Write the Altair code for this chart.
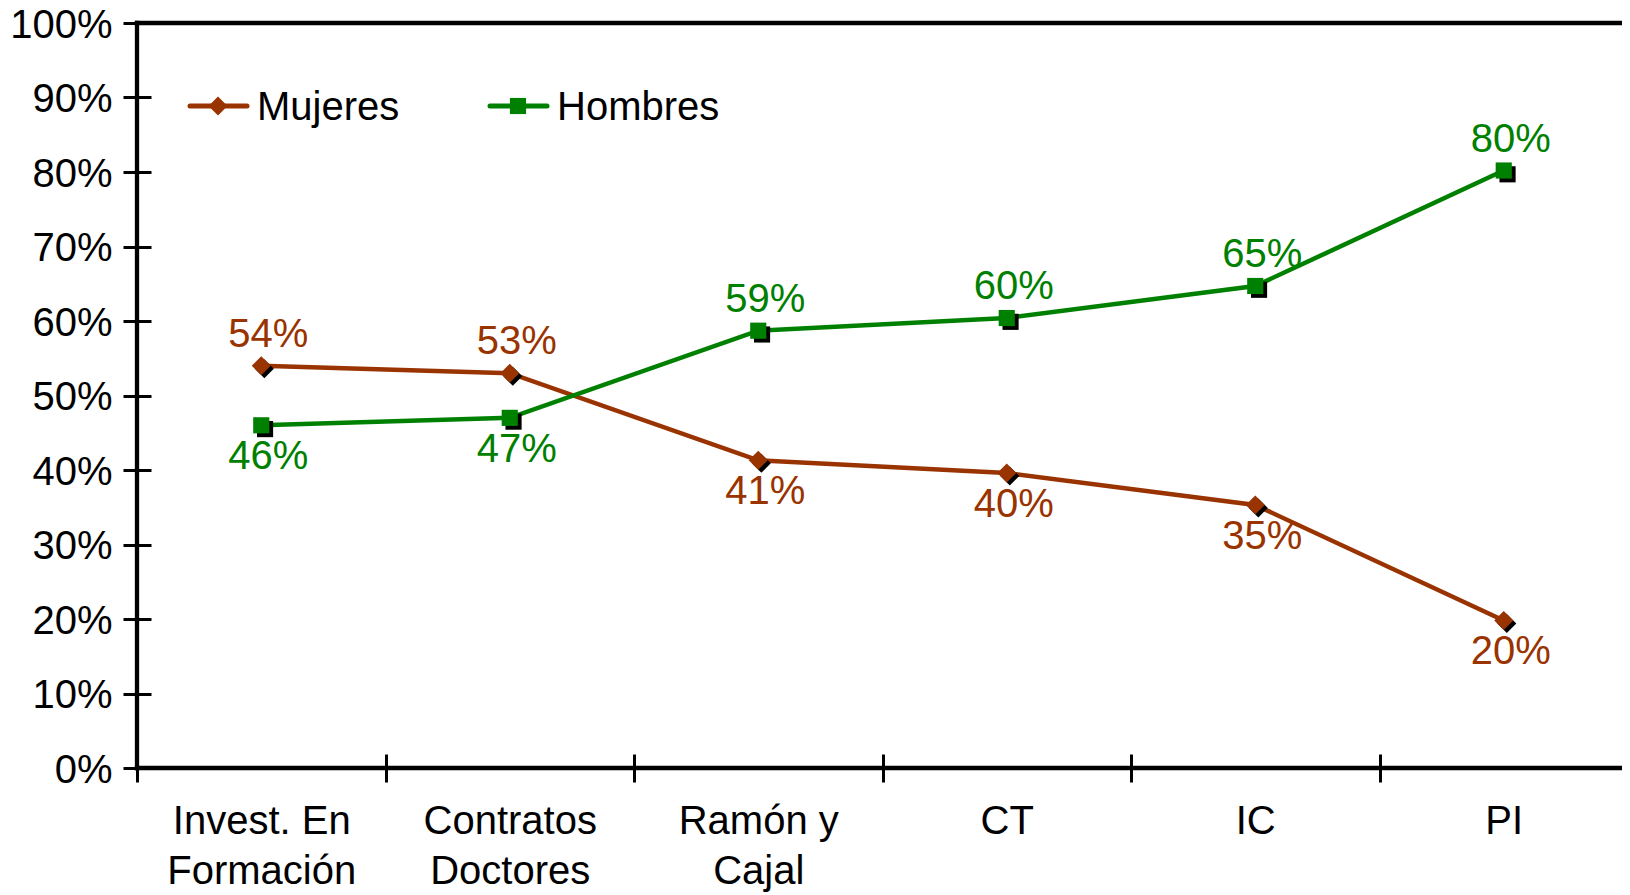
import altair as alt
import pandas as pd

categorias = ["Invest. En\nFormación", "Contratos\nDoctores", "Ramón y\nCajal", "CT", "IC", "PI"]
mujeres = [54.0, 53.0, 41.3, 39.6, 35.3, 19.8]
hombres = [46.0, 47.0, 58.7, 60.4, 64.7, 80.2]
series = ["Mujeres", "Hombres"]
colores = ["#993300", "#008000"]
y_ticks = [0, 10, 20, 30, 40, 50, 60, 70, 80, 90, 100]

rows = []
for i, c in enumerate(categorias):
    m, h = mujeres[i], hombres[i]
    rows.append({"cat": c, "serie": "Mujeres", "valor": m, "arriba": bool(m >= h), "orden": i})
    rows.append({"cat": c, "serie": "Hombres", "valor": h, "arriba": bool(h > m), "orden": i})
df = pd.DataFrame(rows)
df["etiqueta"] = df["valor"].round().astype(int).astype(str) + "%"

W, H = 1491, 745
FONT = "Liberation Sans"
FS = 40

DIAMOND = "M0,-1L1,0L0,1L-1,0Z"
SQUARE = "M-0.85,-0.85L0.85,-0.85L0.85,0.85L-0.85,0.85Z"
DIAMOND_SH = "M0.32,-0.68L1.32,0.32L0.32,1.32L-0.68,0.32Z"
SQUARE_SH = "M-0.45,-0.45L1.25,-0.45L1.25,1.25L-0.45,1.25Z"
SHAPES = {"Mujeres": DIAMOND, "Hombres": SQUARE}
SHADOWS = {"Mujeres": DIAMOND_SH, "Hombres": SQUARE_SH}
COLOR = dict(zip(series, colores))

x_enc = alt.X(
    "cat:N", sort=categorias, bandPosition=0.5,
    scale=alt.Scale(type="band", paddingInner=0, paddingOuter=0),
    axis=alt.Axis(title=None, labelAngle=0, tickBand="extent", offset=-14, tickSize=28,
                  tickWidth=3, tickColor="black", domain=False, grid=False,
                  labelFont=FONT, labelFontSize=FS, labelColor="black", labelPadding=19,
                  labelBaseline="top", labelLineHeight=50, labelOverlap=False,
                  labelExpr="split(datum.label, '\\n')", labelLimit=400),
)
y_enc = alt.Y(
    "valor:Q", scale=alt.Scale(domain=[0, 100]),
    axis=alt.Axis(title=None, values=y_ticks, offset=-14, tickSize=28, tickWidth=3,
                  tickColor="black", domain=False, grid=False, labelFont=FONT,
                  labelFontSize=FS, labelColor="black", labelPadding=11, labelOffset=2,
                  labelExpr="datum.value + '%'"),
)

base = alt.Chart(df)
one = pd.DataFrame({"k": [0]})

layers = []
rule = dict(color="black", strokeWidth=4.3, strokeCap="square")
layers.append(alt.Chart(one).mark_rule(**rule).encode(x=alt.value(0), x2=alt.value(W), y=alt.value(0)))
layers.append(alt.Chart(one).mark_rule(**rule).encode(x=alt.value(0), y=alt.value(0), y2=alt.value(H)))
layers.append(alt.Chart(one).mark_rule(**rule).encode(x=alt.value(0), x2=alt.value(W), y=alt.value(H)))

for s in series:
    layers.append(base.transform_filter(f"datum.serie == '{s}'").mark_line(
        strokeWidth=4.5, color=COLOR[s]).encode(x=x_enc, y=y_enc, order=alt.Order("orden:Q")))
for s in series:
    layers.append(base.transform_filter(f"datum.serie == '{s}'").mark_point(
        shape=SHADOWS[s], filled=True, size=361, color="black", opacity=1, strokeWidth=0).encode(x=x_enc, y=y_enc))
for s in series:
    layers.append(base.transform_filter(f"datum.serie == '{s}'").mark_point(
        shape=SHAPES[s], filled=True, size=361, color=COLOR[s], opacity=1, strokeWidth=0).encode(x=x_enc, y=y_enc))
for s in series:
    for up, dy in ((True, -31), (False, 32)):
        cond = "datum.arriba" if up else "!datum.arriba"
        layers.append(base.transform_filter(f"datum.serie == '{s}' && {cond}").mark_text(
            font=FONT, fontSize=FS, dx=7, dy=dy, baseline="middle", align="center",
            color=COLOR[s]).encode(x=x_enc, y=y_enc, text="etiqueta:N"))

# legend (inside the plot, top-left)
leg_x0 = {"Mujeres": 53, "Hombres": 353}
LEG_Y = 83
for s in series:
    ld = pd.DataFrame({"serie": [s]})
    x0 = leg_x0[s]
    layers.append(alt.Chart(ld).mark_rule(color=COLOR[s], strokeWidth=5, strokeCap="round").encode(
        x=alt.value(x0), x2=alt.value(x0 + 57), y=alt.value(LEG_Y)))
    layers.append(alt.Chart(ld).mark_point(shape=SHAPES[s], filled=True, size=361, color=COLOR[s],
                                           opacity=1, strokeWidth=0).encode(
        x=alt.value(x0 + 28), y=alt.value(LEG_Y)))
    layers.append(alt.Chart(ld).mark_text(font=FONT, fontSize=FS, align="left", baseline="middle",
                                          color="black").encode(
        x=alt.value(x0 + 67), y=alt.value(LEG_Y + 2), text="serie:N"))

chart = alt.layer(*layers).properties(
    width=W, height=H,
    autosize=alt.AutoSizeParams(type="none"),
    padding={"left": 129, "top": 15, "right": -6, "bottom": 130},
).configure_view(stroke="#d0d0d0", strokeWidth=1)

chart.save("out.html", embed_options={"renderer": "svg", "actions": False})
